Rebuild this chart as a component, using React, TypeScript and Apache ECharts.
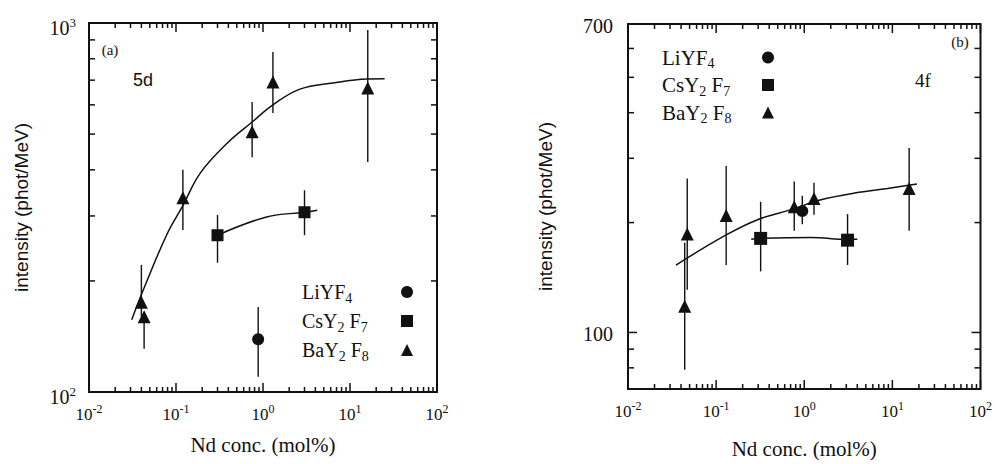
import React, { useEffect, useRef } from 'react';
import * as echarts from 'echarts';

const INK = '#111';
const SERIF = '"Liberation Serif", "Times New Roman", serif';
const SANS = '"Liberation Sans", Arial, sans-serif';

// ---------- shared ----------
const seriesNames = ['LiYF4', 'CsY2F7', 'BaY2F8'];
const legendRich: Record<string, string> = {
  LiYF4: '{n|LiYF}{s|4}',
  CsY2F7: '{n|CsY}{s|2}{n| F}{s|7}',
  BaY2F8: '{n|BaY}{s|2}{n| F}{s|8}',
};
const xRange = [0.01, 100];
const xMajorTicks = [0.01, 0.1, 1, 10, 100];
const minorMultipliers = [2, 3, 4, 5, 6, 7, 8, 9];
const xMinorTicks = [0.01, 0.1, 1, 10].flatMap((d) => minorMultipliers.map((m) => +(d * m).toPrecision(3)));
const xTitle = 'Nd conc. (mol%)';
const yTitle = 'intensity (phot/MeV)';

// ---------- panel (a) : 5d ----------
const aYRange = [100, 1000];
const aYMajor = [100, 1000];
const aYMinor = [200, 300, 400, 500, 600, 700, 800, 900];
const aLi = [[0.88, 139]];
const aLiErr = [[0.88, 110, 170]];
const aCs = [[0.3, 266], [3.0, 307]];
const aCsErr = [[0.3, 224, 302], [3.0, 266, 352]];
const aCsFit = [[0.3, 266], [1.1, 298], [3.0, 307], [4.2, 311]];
const aBa = [[0.04, 175], [0.043, 160], [0.12, 336], [0.75, 507], [1.3, 692], [16, 667]];
const aBaErr = [[0.04, 160, 221], [0.043, 131, 160], [0.12, 275, 400], [0.75, 433, 611], [1.3, 570, 834], [16, 420, 957]];
const aBaFit = [[0.031, 157], [0.042, 189], [0.079, 268], [0.12, 320], [0.19, 392], [0.39, 473], [0.75, 539], [1.3, 600], [2.66, 662], [6.4, 688], [15.7, 705], [25, 706]];

// ---------- panel (b) : 4f ----------
const bYRange = [70, 700];
const bYMajor = [100];
const bYMinor = [80, 90, 200, 300, 400, 500, 600];
const bYLabels = [100, 700];
const bLi = [[0.95, 215]];
const bLiErr = [[0.95, 198, 237]];
const bCs = [[0.32, 181], [3.1, 179]];
const bCsErr = [[0.32, 147, 228], [3.1, 153, 211]];
const bCsFit = [[0.25, 180], [0.32, 181], [1.2, 182], [3.1, 180], [4.0, 180]];
const bBa = [[0.047, 186], [0.044, 118], [0.13, 209], [0.77, 221], [1.29, 233], [15.5, 248]];
const bBaErr = [[0.047, 131, 264], [0.044, 79, 176], [0.13, 153, 286], [0.77, 190, 259], [1.29, 210, 257], [15.5, 190, 320]];
const bBaFit = [[0.035, 153], [0.13, 185], [0.3, 204], [0.71, 217], [1.55, 231], [3.74, 241], [8.8, 248], [19, 255]];

const supLabel = (v: number) => `{b|10}{s|${Math.round(Math.log10(v))}}`;

function errSeries(idx: number, name: string, data: number[][]) {
  return {
    type: 'custom', name, xAxisIndex: idx, yAxisIndex: idx, silent: true, z: 2,
    dimensions: ['x', 'lo', 'hi'],
    encode: { x: 0, y: [1, 2] },
    renderItem: (_p: any, api: any) => {
      const x = api.value(0);
      const a = api.coord([x, api.value(1)]);
      const b = api.coord([x, api.value(2)]);
      return { type: 'line', shape: { x1: a[0], y1: a[1], x2: b[0], y2: b[1] }, style: { stroke: INK, lineWidth: 1.4 } };
    },
    data,
  };
}

// vertical tick marks on bottom & top frame: item = [x, fromEdge, otherEdge]
function xTickSeries(idx: number, name: string, ys: number[], values: number[], len: number) {
  const data: number[][] = [];
  values.forEach((v) => { data.push([v, ys[0], ys[1]]); data.push([v, ys[1], ys[0]]); });
  return {
    type: 'custom', name, xAxisIndex: idx, yAxisIndex: idx, silent: true, z: 5,
    dimensions: ['x', 'lo', 'hi'],
    encode: { x: 0, y: [1, 2] },
    renderItem: (_p: any, api: any) => {
      const x = api.value(0);
      const a = api.coord([x, api.value(1)]);
      const b = api.coord([x, api.value(2)]);
      const d = b[1] > a[1] ? 1 : -1;
      return { type: 'line', shape: { x1: a[0], y1: a[1], x2: a[0], y2: a[1] + d * len }, style: { stroke: INK, lineWidth: 1.5 } };
    },
    data,
  };
}

// horizontal tick marks on left & right frame: item = [fromEdge, otherEdge, y]
function yTickSeries(idx: number, name: string, values: number[], len: number) {
  const data: number[][] = [];
  values.forEach((v) => { data.push([xRange[0], xRange[1], v]); data.push([xRange[1], xRange[0], v]); });
  return {
    type: 'custom', name, xAxisIndex: idx, yAxisIndex: idx, silent: true, z: 5,
    dimensions: ['lo', 'hi', 'y'],
    encode: { x: [0, 1], y: 2 },
    renderItem: (_p: any, api: any) => {
      const y = api.value(2);
      const a = api.coord([api.value(0), y]);
      const b = api.coord([api.value(1), y]);
      const d = b[0] > a[0] ? 1 : -1;
      return { type: 'line', shape: { x1: a[0], y1: a[1], x2: a[0] + d * len, y2: a[1] }, style: { stroke: INK, lineWidth: 1.5 } };
    },
    data,
  };
}

function markerSeries(idx: number, name: string, symbol: string, size: number, data: number[][]) {
  return {
    type: 'scatter', name, xAxisIndex: idx, yAxisIndex: idx, symbol, symbolSize: size, z: 3,
    itemStyle: { color: INK, opacity: 1 }, data,
  };
}

function fitSeries(idx: number, name: string, data: number[][]) {
  return {
    type: 'line', name, xAxisIndex: idx, yAxisIndex: idx, smooth: 0.4, showSymbol: false, symbol: 'none',
    lineStyle: { color: INK, width: 1.5 }, z: 2, data,
  };
}

function legendFor(left: number, top: number, fontSize: number, width: number, gap: number) {
  return {
    orient: 'vertical', left, top, padding: 0, align: 'right', itemWidth: 12, itemHeight: 12, itemGap: gap,
    selectedMode: false,
    data: [
      { name: 'LiYF4', icon: 'circle', itemStyle: { color: INK } },
      { name: 'CsY2F7', icon: 'rect', itemStyle: { color: INK } },
      { name: 'BaY2F8', icon: 'triangle', itemStyle: { color: INK } },
    ],
    formatter: (n: string) => legendRich[n],
    textStyle: {
      width, color: INK,
      rich: {
        n: { fontFamily: SERIF, fontSize, lineHeight: 26, color: INK, align: 'left' },
        s: { fontFamily: SERIF, fontSize: Math.round(fontSize * 0.68), lineHeight: 8, verticalAlign: 'bottom', color: INK, align: 'left' },
      },
    },
  };
}

const xAxisFor = (idx: number, nameGap: number) => ({
  type: 'log', gridIndex: idx, min: xRange[0], max: xRange[1], logBase: 10,
  name: xTitle, nameLocation: 'middle', nameGap,
  nameTextStyle: { fontFamily: SERIF, fontSize: 21, color: INK },
  axisLine: { show: false, onZero: false }, axisTick: { show: false }, splitLine: { show: false },
  axisLabel: {
    margin: 11, formatter: supLabel, showMinLabel: true, showMaxLabel: true,
    rich: {
      b: { fontFamily: SERIF, fontSize: 17, lineHeight: 22, color: INK },
      s: { fontFamily: SERIF, fontSize: 12, lineHeight: 10, verticalAlign: 'top', color: INK },
    },
  },
});

export default function App() {
  const ref = useRef<HTMLDivElement>(null);
  useEffect(() => {
    if (!ref.current) return;
    const chart = echarts.init(ref.current, null, { renderer: 'svg' });
    const option: any = {
      animation: false,
      backgroundColor: '#fff',
      grid: [
        { left: 89, top: 23, width: 348, height: 369, show: true, borderColor: INK, borderWidth: 2, backgroundColor: 'transparent' },
        { left: 628, top: 24, width: 356, height: 369, show: true, borderColor: INK, borderWidth: 2, backgroundColor: 'transparent' },
      ],
      xAxis: [xAxisFor(0, 42), xAxisFor(1, 49)],
      yAxis: [
        {
          type: 'log', gridIndex: 0, min: aYRange[0], max: aYRange[1], logBase: 10,
          name: yTitle, nameLocation: 'middle', nameGap: 58,
          nameTextStyle: { fontFamily: SANS, fontSize: 19, color: INK },
          axisLine: { show: false, onZero: false }, axisTick: { show: false }, splitLine: { show: false },
          axisLabel: {
            margin: 13, formatter: supLabel, padding: [10, 0, 0, 0], showMinLabel: true, showMaxLabel: true,
            rich: {
              b: { fontFamily: SERIF, fontSize: 20, lineHeight: 24, color: INK },
              s: { fontFamily: SERIF, fontSize: 13, lineHeight: 12, verticalAlign: 'top', color: INK },
            },
          },
        },
        {
          type: 'log', gridIndex: 1, min: bYRange[0], max: bYRange[1], logBase: 10,
          name: yTitle, nameLocation: 'middle', nameGap: 73,
          nameTextStyle: { fontFamily: SANS, fontSize: 19, color: INK },
          axisLine: { show: false, onZero: false }, axisTick: { show: false }, splitLine: { show: false },
          axisLabel: { show: false },
        },
      ],
      legend: [legendFor(302, 282, 20, 94, 6), legendFor(662, 47, 21, 95, 4)],
      graphic: [
        { type: 'text', x: 110, y: 50, style: { text: '(a)', fontFamily: SERIF, fontSize: 15, fill: INK, align: 'center', verticalAlign: 'middle' } },
        { type: 'text', x: 143, y: 80, style: { text: '5d', fontFamily: SANS, fontSize: 18, fill: INK, align: 'center', verticalAlign: 'middle' } },
        { type: 'text', x: 960, y: 42, style: { text: '(b)', fontFamily: SERIF, fontSize: 15, fill: INK, align: 'center', verticalAlign: 'middle' } },
        { type: 'text', x: 923, y: 80, style: { text: '4f', fontFamily: SERIF, fontSize: 19, fill: INK, align: 'center', verticalAlign: 'middle' } },
      ],
      series: [
        // panel a
        errSeries(0, 'LiYF4 error (a)', aLiErr),
        errSeries(0, 'CsY2F7 error (a)', aCsErr),
        errSeries(0, 'BaY2F8 error (a)', aBaErr),
        fitSeries(0, 'CsY2F7 fit (a)', aCsFit),
        fitSeries(0, 'BaY2F8 fit (a)', aBaFit),
        markerSeries(0, seriesNames[0], 'circle', 12, aLi),
        markerSeries(0, seriesNames[1], 'rect', 12, aCs),
        markerSeries(0, seriesNames[2], 'triangle', 13, aBa),
        xTickSeries(0, 'x major marks (a)', aYRange, xMajorTicks, 9),
        xTickSeries(0, 'x minor marks (a)', aYRange, xMinorTicks, 5),
        yTickSeries(0, 'y major marks (a)', aYMajor, 9),
        yTickSeries(0, 'y minor marks (a)', aYMinor, 6),
        // panel b
        {
          type: 'custom', name: 'y labels (b)', xAxisIndex: 1, yAxisIndex: 1, silent: true, z: 4,
          renderItem: (_p: any, api: any) => {
            const v = api.value(1);
            const p = api.coord([xRange[0], v]);
            return { type: 'text', x: p[0] - 15, y: p[1] + 2, style: { text: String(v), fontFamily: SERIF, fontSize: 20, fill: INK, align: 'right', verticalAlign: 'middle' } };
          },
          data: bYLabels.map((v) => [xRange[0], v]),
        },
        errSeries(1, 'LiYF4 error (b)', bLiErr),
        errSeries(1, 'CsY2F7 error (b)', bCsErr),
        errSeries(1, 'BaY2F8 error (b)', bBaErr),
        fitSeries(1, 'CsY2F7 fit (b)', bCsFit),
        fitSeries(1, 'BaY2F8 fit (b)', bBaFit),
        markerSeries(1, seriesNames[0], 'circle', 12, bLi),
        markerSeries(1, seriesNames[1], 'rect', 13, bCs),
        markerSeries(1, seriesNames[2], 'triangle', 13, bBa),
        xTickSeries(1, 'x major marks (b)', bYRange, xMajorTicks, 9),
        xTickSeries(1, 'x minor marks (b)', bYRange, xMinorTicks, 5),
        yTickSeries(1, 'y major marks (b)', bYMajor, 9),
        yTickSeries(1, 'y minor marks (b)', bYMinor, 6),
      ],
    };
    chart.setOption(option);
    return () => chart.dispose();
  }, []);
  return <div ref={ref} style={{ position: 'fixed', left: 0, top: 0, width: 995, height: 464, background: '#fff' }} />;
}
